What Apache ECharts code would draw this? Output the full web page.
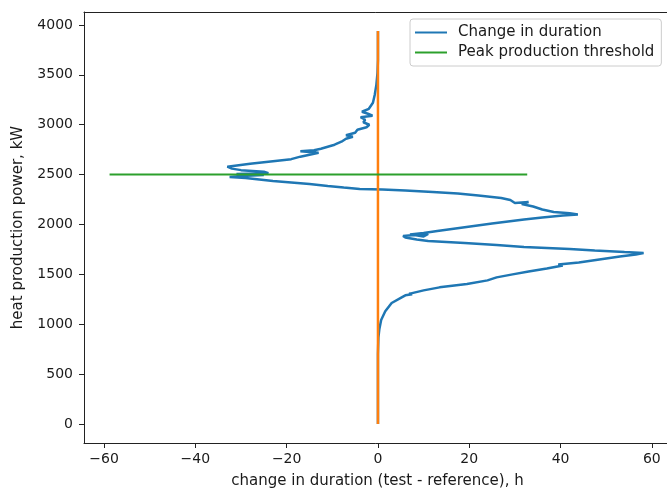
<!DOCTYPE html>
<html>
<head>
<meta charset="utf-8">
<script src="https://cdn.jsdelivr.net/npm/echarts@6/dist/echarts.min.js"></script>
<style>html,body{margin:0;padding:0;background:#fff}#c{width:667px;height:488px}</style>
</head>
<body>
<div id="c"></div>
<script>
// Blue curve: heat production power (kW) and change in duration (h)
var powerKW = [0, 700, 870, 950, 1043, 1130, 1213, 1270, 1290, 1300, 1305, 1340, 1370, 1403, 1440, 1470, 1500, 1530, 1560, 1590, 1600, 1620, 1650, 1680, 1700, 1714,
  1724, 1740, 1755, 1775, 1795, 1815, 1835, 1850, 1870, 1885, 1895, 1880, 1905, 1900, 1915, 1935, 1960, 1985, 2010, 2030, 2050, 2070, 2090, 2100,
  2112, 2125, 2150, 2180, 2205, 2225, 2215, 2245, 2265, 2290, 2310, 2325, 2340, 2350, 2356, 2370, 2386, 2405, 2420, 2435, 2450, 2465, 2475,
  2485, 2495, 2505, 2515, 2530, 2545, 2560, 2580, 2595, 2610, 2630, 2655, 2680, 2700, 2720, 2735, 2745, 2760, 2780, 2800, 2830, 2860, 2880,
  2895, 2920, 2950, 2975, 3000, 3025, 3050, 3075, 3090, 3110, 3130, 3160, 3220, 3300, 3400, 3520, 3650, 3940];
var changeH = [0, 0, 0.1, 0.3, 0.7, 1.6, 3, 5.2, 6.0, 7.5, 6.8, 10, 13.5, 19.5, 24, 26, 29.5, 33, 37, 40.5, 39.5, 44, 48.5, 53, 56.5, 58.2,
  54, 47.5, 42, 32, 26, 19, 11, 8.5, 6, 5.5, 8, 10, 11, 7, 10, 13, 17, 21, 25, 28.5, 32, 36, 40.5, 43.8,
  42, 38.5, 36, 34, 31.5, 33, 30, 29, 27, 22, 17.5, 12, 6, 1, -4, -7.5, -11, -15, -19, -23, -26, -29, -32.5,
  -30, -25, -31, -24, -25, -30, -32, -33, -30.5, -28, -24, -19, -17, -15, -13, -17, -14, -12.5, -11, -9.5, -8, -7, -5.5,
  -7, -5, -4.5, -2.5, -1.9, -3.2, -2.8, -3.8, -1.2, -2.2, -3.5, -2, -1.1, -0.7, -0.35, -0.1, 0, 0];
// Orange reference line (x = 0)
var refPower = [0, 3940];
var refChange = [0, 0];
// Green threshold line
var thresholdKW = 2500;
var thresholdX = [-58.8, 32.7];
// Ticks
var xTicks = [-60, -40, -20, 0, 20, 40, 60];
var yTicks = [0, 500, 1000, 1500, 2000, 2500, 3000, 3500, 4000];

var blueData = powerKW.map(function (p, i) { return [changeH[i], p]; });
var orangeData = refPower.map(function (p, i) { return [refChange[i], p]; });
var greenData = thresholdX.map(function (x) { return [x, thresholdKW]; });

var font = 'DejaVu Sans';
var txt = '#1a1a1a';
var spine = '#222';
function fmt(v) { return v < 0 ? '\u2212' + Math.abs(v) : String(v); }

var chart = echarts.init(document.getElementById('c'), null, { renderer: 'canvas' });
chart.setOption({
  animation: false,
  backgroundColor: '#fff',
  grid: { left: 84, top: 12, right: -4, bottom: 45, show: false, containLabel: false, outerBoundsMode: 'none' },
  legend: {
    orient: 'vertical', left: 410, top: 19,
    padding: [6, 7, 6, 5], itemGap: 5, itemWidth: 32, itemHeight: 2,
    backgroundColor: '#fff', borderColor: '#ccc', borderWidth: 1, borderRadius: 3,
    textStyle: { fontFamily: font, fontSize: 15, color: txt, padding: [0, 0, 0, 6] },
    data: [{ name: 'Change in duration', icon: 'rect' }, { name: 'Peak production threshold', icon: 'rect' }]
  },
  xAxis: [{
    type: 'value', min: -64.4, max: 64.2, position: 'bottom',
    name: 'change in duration (test - reference), h', nameLocation: 'middle', nameGap: 31,
    nameTextStyle: { fontFamily: font, fontSize: 15, color: txt },
    axisLine: { show: true, onZero: false, lineStyle: { color: spine, width: 1 } },
    axisTick: { show: true, length: 5, lineStyle: { color: spine }, customValues: xTicks },
    axisLabel: { fontFamily: font, fontSize: 14, color: txt, margin: 9, customValues: xTicks, formatter: fmt },
    splitLine: { show: false }
  }, {
    type: 'value', min: -64.4, max: 64.2, position: 'top',
    axisLine: { show: true, onZero: false, lineStyle: { color: spine, width: 1 } },
    axisTick: { show: false }, axisLabel: { show: false }, splitLine: { show: false }
  }],
  yAxis: {
    type: 'value', min: -190, max: 4130,
    name: 'heat production power, kW', nameLocation: 'middle', nameGap: 58, nameRotate: 90,
    nameTextStyle: { fontFamily: font, fontSize: 15, color: txt },
    axisLine: { show: true, onZero: false, lineStyle: { color: spine, width: 1 } },
    axisTick: { show: true, length: 5, lineStyle: { color: spine }, customValues: yTicks },
    axisLabel: { fontFamily: font, fontSize: 14, color: txt, margin: 11, customValues: yTicks, formatter: fmt },
    splitLine: { show: false }
  },
  series: [
    { name: 'Change in duration', type: 'line', data: blueData, symbol: 'none', color: '#1f77b4', lineStyle: { width: 2.5, color: '#1f77b4' } },
    { name: 'Reference', type: 'line', data: orangeData, symbol: 'none', color: '#ff7f0e', lineStyle: { width: 2.5, color: '#ff7f0e' } },
    { name: 'Peak production threshold', type: 'line', data: greenData, symbol: 'none', color: '#2ca02c', lineStyle: { width: 2, color: '#2ca02c' } }
  ]
});
</script>
</body>
</html>
